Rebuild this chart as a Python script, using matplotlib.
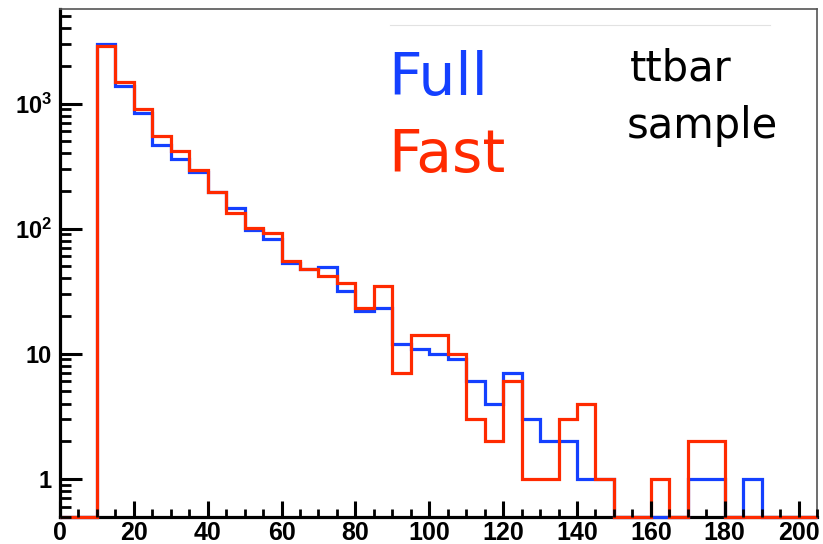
import numpy as np
import matplotlib
matplotlib.use('Agg')
import matplotlib.pyplot as plt
from matplotlib.ticker import FixedLocator, FixedFormatter, LogLocator, MultipleLocator, NullFormatter

plt.rcParams['mathtext.fontset'] = 'custom'
plt.rcParams['mathtext.rm'] = 'Liberation Sans'
plt.rcParams['mathtext.bf'] = 'Liberation Sans:bold'

# Бины гистограммы: 0..205 с шагом 5
bin_edges = np.arange(0, 210, 5)

# Full simulation
full_counts = [0, 0, 3000, 1375, 840, 470, 360, 282, 196, 145, 98, 82, 53, 48, 49, 32,
               22, 23, 12, 11, 10, 9, 6, 4, 7, 3, 2, 2, 1, 1, 0, 0, 0, 0, 1, 1, 0, 1, 0, 0, 0]
# Fast simulation
fast_counts = [0, 0, 2900, 1500, 905, 547, 418, 292, 196, 133, 102, 93, 55, 48, 42, 37,
               23, 35, 7, 14, 14, 10, 3, 2, 6, 1, 1, 3, 4, 1, 0, 0, 1, 0, 2, 2, 0, 0, 0, 0, 0]

y_ticks = [1, 10, 100, 1000]
y_tick_labels = ['1', '10', r'$\mathbf{10^{2}}$', r'$\mathbf{10^{3}}$']
x_ticks = list(range(0, 201, 20))

blue = '#1440ff'
red = '#ff2a00'
y_lo, y_hi = 0.5, 5700

fig = plt.figure(figsize=(8.23, 5.44), dpi=100)
ax = fig.add_axes([60 / 823, 1 - 516.5 / 544, 757 / 823, 507.5 / 544])

# пустые бины рисуются по нижней границе, как в ROOT
for counts, color in [(full_counts, blue), (fast_counts, red)]:
    vals = np.array(counts, dtype=float)
    vals = np.where(vals > 0, vals, y_lo)
    ax.stairs(vals, bin_edges, baseline=None, color=color, linewidth=2.3,
              zorder=3, clip_on=False)

ax.set_yscale('log')
ax.set_xlim(0, 205)
ax.set_ylim(y_lo, y_hi)

ax.yaxis.set_major_locator(FixedLocator(y_ticks))
ax.yaxis.set_major_formatter(FixedFormatter(y_tick_labels))
ax.yaxis.set_minor_locator(LogLocator(base=10, subs=np.arange(2, 10)))
ax.yaxis.set_minor_formatter(NullFormatter())
ax.xaxis.set_major_locator(FixedLocator(x_ticks))
ax.xaxis.set_minor_locator(MultipleLocator(5))

ax.tick_params(axis='y', which='major', direction='in', length=16, width=2.2,
               pad=6, labelsize=17)
ax.tick_params(axis='y', which='minor', direction='in', length=8, width=2)
ax.tick_params(axis='x', which='major', direction='in', length=11.5, width=2.2,
               pad=3, labelsize=18)
ax.tick_params(axis='x', which='minor', direction='in', length=6, width=2)
for lab in ax.get_xticklabels() + ax.get_yticklabels():
    lab.set_family('Liberation Sans')
    lab.set_fontweight('bold')
ax.xaxis.set_zorder(4)
ax.yaxis.set_zorder(4)

ax.spines['left'].set_linewidth(2.3)
ax.spines['bottom'].set_linewidth(2.3)
for side in ['top', 'right']:
    ax.spines[side].set_linewidth(1.2)
    ax.spines[side].set_color('#555555')

# подписи
ax.plot([0.436, 0.938], [0.9685, 0.9685], transform=ax.transAxes,
        color='#e2e2e2', linewidth=0.8)
ax.text(0.433, 0.8305, 'Full', transform=ax.transAxes, color=blue,
        fontsize=42, family='DejaVu Sans', va='baseline', ha='left')
ax.text(0.433, 0.679, 'Fast', transform=ax.transAxes, color=red,
        fontsize=42, family='DejaVu Sans', va='baseline', ha='left')
ax.text(0.753, 0.860, 'ttbar', transform=ax.transAxes, color='black',
        fontsize=30, family='DejaVu Sans', va='baseline', ha='left')
ax.text(0.749, 0.746, 'sample', transform=ax.transAxes, color='black',
        fontsize=30, family='DejaVu Sans', va='baseline', ha='left')

fig.savefig('out.png', dpi=100)
